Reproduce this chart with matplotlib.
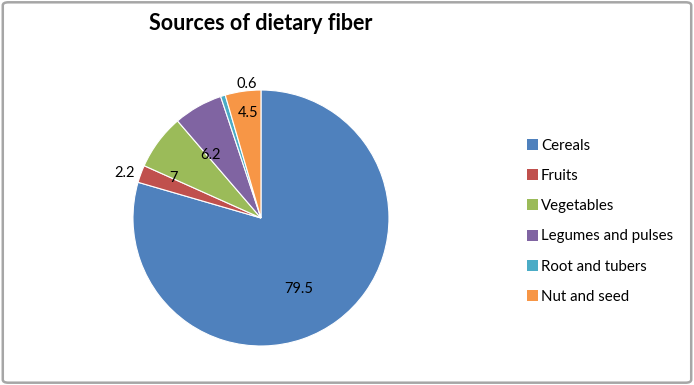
import numpy as np
import matplotlib.pyplot as plt
from matplotlib.patches import FancyBboxPatch, Rectangle

# data
sources = ["Cereals", "Fruits", "Vegetables", "Legumes and pulses",
           "Root and tubers", "Nut and seed"]
fiber = [79.5, 2.2, 7, 6.2, 0.6, 4.5]
value_labels = ["79.5", "2.2", "7", "6.2", "0.6", "4.5"]
colors = ["#4F81BD", "#C0504D", "#9BBB59", "#8064A2", "#4BACC6", "#F79646"]

# how far from the centre each value label sits (fraction of radius)
label_r = [0.63, 1.12, 0.75, 0.63, 1.05, 0.83]
label_shift = [-9, 2, 12, 9, -11, -1]   # degrees, nudges like Excel's best fit

plt.rcParams['font.family'] = ['Lato', 'DejaVu Sans']

fig = plt.figure(figsize=(6.94, 3.85), dpi=100)

# outer chart border
fig.patches.append(FancyBboxPatch((0.004, 0.006), 0.992, 0.988,
                                  boxstyle="round,pad=0,rounding_size=0.008",
                                  transform=fig.transFigure, fill=False,
                                  edgecolor="#A6A6A6", linewidth=1.8))

ax = fig.add_axes([0.1916, 0.1013, 0.3689, 0.6649])
wedges, _ = ax.pie(fiber, colors=colors, startangle=90, counterclock=False,
                   wedgeprops=dict(edgecolor="white", linewidth=0.8))
ax.set_xlim(-1, 1)
ax.set_ylim(-1, 1)
ax.set_aspect("equal")

for w, txt, r, s in zip(wedges, value_labels, label_r, label_shift):
    ang = np.deg2rad((w.theta1 + w.theta2) / 2 + s)
    ax.text(r * np.cos(ang), r * np.sin(ang), txt, ha="center", va="center",
            fontsize=10.5, color="black", clip_on=False)

fig.text(0.376, 0.94, "Sources of dietary fiber", ha="center", va="center",
         fontsize=15.5, fontweight="bold")

handles = [Rectangle((0, 0), 1, 1, facecolor=c, edgecolor="none") for c in colors]
fig.legend(handles, sources, loc="upper left", bbox_to_anchor=(0.750, 0.655),
           frameon=False, fontsize=10.8, handlelength=0.75, handleheight=0.75,
           handletextpad=0.2, labelspacing=1.08, borderaxespad=0)

plt.savefig("out.png", dpi=100)
